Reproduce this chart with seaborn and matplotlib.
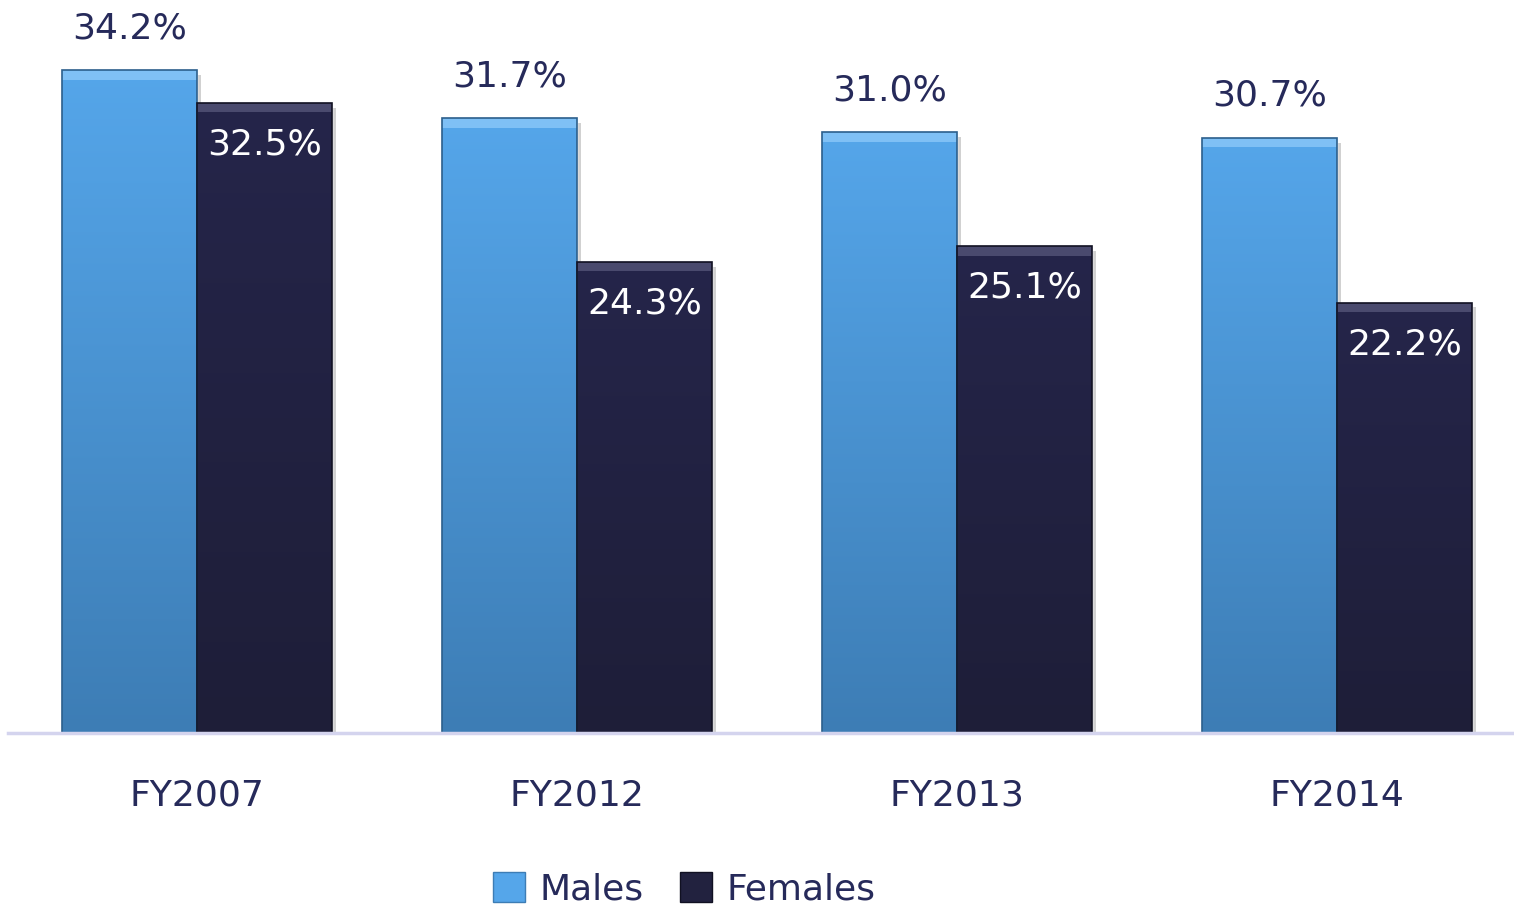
import matplotlib
matplotlib.use("Agg")
import matplotlib.pyplot as plt
import seaborn as sns
import pandas as pd
import numpy as np
from matplotlib.patches import Patch

years = ["FY2007", "FY2012", "FY2013", "FY2014"]
males = [34.2, 31.7, 31.0, 30.7]
females = [32.5, 24.3, 25.1, 22.2]
series = ["Males", "Females"]

male_top = "#55a6ea"
male_bot = "#3d7db5"
female_col = "#22223f"
text_col = "#262a5a"

df = pd.DataFrame({
    "year": years * 2,
    "value": males + females,
    "sex": ["Males"] * len(years) + ["Females"] * len(years),
})

sns.set_style("white")
plt.rcParams["font.family"] = ["DejaVu Sans"]

fig = plt.figure(figsize=(15.14, 9.09), dpi=100)
ax = fig.add_axes([8 / 1514, 176 / 909, 1506 / 1514, 733 / 909])

sns.barplot(data=df, x="year", y="value", hue="sex", order=years,
            hue_order=series, palette=[male_bot, female_col],
            width=0.71, gap=0, ax=ax, legend=False, saturation=1)

ax.set_xlim(-0.497, 3.466)
ax.set_ylim(0, 37.8)

grad = np.linspace(0, 1, 256).reshape(-1, 1)
male_cmap = matplotlib.colors.LinearSegmentedColormap.from_list("m", [male_bot, male_top])
fem_cmap = matplotlib.colors.LinearSegmentedColormap.from_list("f", ["#1e1e38", "#25254a"])

patches = ax.patches[:2 * len(years)]
for i, p in enumerate(patches):
    x0, w, h = p.get_x(), p.get_width(), p.get_height()
    is_male = i < len(years)
    cmap = male_cmap if is_male else fem_cmap
    # soft shadow to the right
    ax.add_patch(plt.Rectangle((x0 + w * 0.03, 0), w, h - 0.25, color="#000000",
                               alpha=0.18, zorder=1.5, lw=0))
    im = ax.imshow(grad, cmap=cmap, origin="lower", aspect="auto",
                   extent=(x0, x0 + w, 0, h), zorder=2)
    im.set_clip_path(p)
    p.set_zorder(2)
    # bevel at top
    ax.add_patch(plt.Rectangle((x0, h - 0.5), w, 0.5,
                               color="#7fc0f5" if is_male else "#4a4a6e",
                               zorder=3, lw=0))
    ax.add_patch(plt.Rectangle((x0, 0), w, h, fill=False,
                               ec="#2c5f8c" if is_male else "#111122",
                               lw=1.2, zorder=3))
    if is_male:
        ax.text(x0 + w / 2, h + 2.15, f"{h:.1f}%", ha="center", va="center",
                fontsize=26, color=text_col, zorder=4)
    else:
        ax.text(x0 + w / 2, h - 2.15, f"{h:.1f}%", ha="center", va="center",
                fontsize=26, color="white", zorder=4)

sns.despine(ax=ax, left=True, top=True, right=True)
ax.spines["bottom"].set_color("#d4d4ee")
ax.spines["bottom"].set_linewidth(2.5)
ax.spines["bottom"].set_zorder(5)
ax.set_yticks([])
ax.set_xlabel("")
ax.set_ylabel("")
ax.tick_params(axis="x", length=0, pad=33, labelsize=26, labelcolor=text_col)

handles = [Patch(facecolor=male_top, edgecolor=male_bot, label="Males"),
           Patch(facecolor=female_col, edgecolor="#111122", label="Females")]
fig.legend(handles=handles, loc="center", bbox_to_anchor=(0.452, 0.022), ncol=2,
           frameon=False, fontsize=26, labelcolor=text_col, handlelength=0.9,
           handleheight=0.9, handletextpad=0.4, columnspacing=1.0)

fig.savefig("out.png", dpi=100)
